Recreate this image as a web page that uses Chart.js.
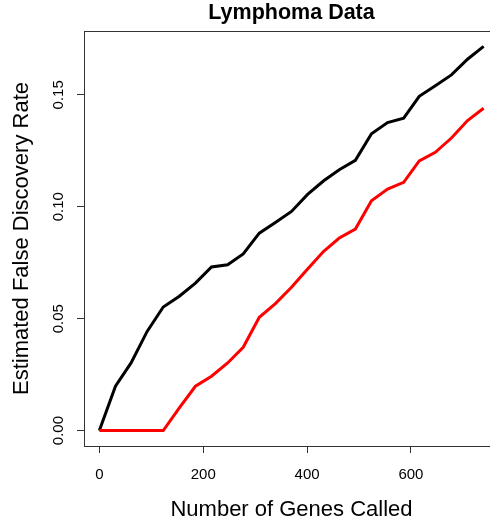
<!DOCTYPE html>
<html>
<head>
<meta charset="utf-8">
<title>Lymphoma Data</title>
<script src="https://cdn.jsdelivr.net/npm/chart.js@4/dist/chart.umd.min.js"></script>
<style>
	html, body { margin: 0; padding: 0; background: #fff; overflow: hidden; }
	#wrap { width: 490px; height: 521px; overflow: hidden; }
</style>
</head>
<body>
<div id="wrap"><canvas id="chart" width="500" height="521"></canvas></div>
<script>
// number of genes called (x)
var genesCalled = [0, 31, 61, 92, 123, 154, 185, 216, 247, 277, 308, 339, 370,
	401, 432, 462, 493, 524, 555, 586, 616, 647, 678, 709, 740];

// upper (black) and lower (red) FDR estimates
var fdrBlack = [0, 0.0198, 0.0302, 0.0443, 0.0552, 0.0600, 0.0659, 0.0731, 0.0741,
	0.0789, 0.0882, 0.0930, 0.0979, 0.1055, 0.1116, 0.1165, 0.1207, 0.1326,
	0.1376, 0.1396, 0.1493, 0.1540, 0.1589, 0.1659, 0.1716];
var fdrRed = [0, 0, 0, 0, 0, 0.0101, 0.0198, 0.0243, 0.0302, 0.0372, 0.0506,
	0.0567, 0.0640, 0.0722, 0.0801, 0.0860, 0.0900, 0.1027, 0.1079, 0.1109,
	0.1205, 0.1243, 0.1307, 0.1385, 0.1440];

var xTicks = [0, 200, 400, 600];
var yTicks = [0, 0.05, 0.10, 0.15];

var font = "'Liberation Sans', Arial, Helvetica, sans-serif";
var ink = "#333";

var points = function (ys) {
	return genesCalled.map(function (x, i) {
		return { x: x, y: ys[i] };
	});
};

// R style box around the plot region
var boxPlugin = {
	id: "box",
	afterDraw: function (chart) {
		var a = chart.chartArea;
		var ctx = chart.ctx;
		ctx.save();
		ctx.strokeStyle = ink;
		ctx.lineWidth = 1;
		ctx.strokeRect(Math.round(a.left) + 0.5, Math.round(a.top) + 0.5,
			Math.round(a.right - a.left), Math.round(a.bottom - a.top));
		ctx.restore();
	},
};

new Chart(document.getElementById("chart"), {
	type: "line",
	data: {
		datasets: [
			{
				data: points(fdrRed),
				borderColor: "#ff0000",
				borderWidth: 3,
				pointRadius: 0,
				tension: 0,
			},
			{
				data: points(fdrBlack),
				borderColor: "#000000",
				borderWidth: 3,
				pointRadius: 0,
				tension: 0,
			},
		],
	},
	options: {
		responsive: false,
		animation: false,
		layout: { padding: { left: 0, right: 1, top: 0, bottom: 0 } },
		plugins: {
			legend: { display: false },
			tooltip: { enabled: false },
			title: {
				display: true,
				text: "Lymphoma Data",
				fullSize: false,
				color: "#000",
				font: { family: font, size: 21.5, weight: "bold", lineHeight: 1.2 },
				padding: { top: 0.5, bottom: 4.7 },
			},
		},
		scales: {
			x: {
				type: "linear",
				min: -29.6,
				max: 769.6,
				afterFit: function (scale) { scale.height = 75; },
				afterBuildTicks: function (scale) {
					scale.ticks = xTicks.map(function (v) { return { value: v }; });
				},
				grid: { drawOnChartArea: false, drawTicks: true, tickLength: 7, color: ink },
				border: { display: true, color: ink },
				ticks: {
					color: "#000",
					padding: 13,
					maxRotation: 0,
					font: { family: font, size: 15 },
				},
				title: {
					display: true,
					text: "Number of Genes Called",
					color: "#000",
					font: { family: font, size: 22, lineHeight: 1 },
					padding: { top: 0, bottom: 0.5 },
				},
			},
			y: {
				type: "linear",
				min: -0.0069,
				max: 0.1785,
				afterFit: function (scale) { scale.width = 84; },
				afterBuildTicks: function (scale) {
					scale.ticks = yTicks.map(function (v) { return { value: v }; });
				},
				grid: { drawOnChartArea: false, drawTicks: true, tickLength: 7, color: ink },
				border: { display: true, color: ink },
				ticks: {
					color: "#000",
					padding: 4,
					minRotation: 90,
					maxRotation: 90,
					crossAlign: "center",
					font: { family: font, size: 15 },
					callback: function (v) { return v.toFixed(2); },
				},
				title: {
					display: true,
					text: "Estimated False Discovery Rate",
					color: "#000",
					font: { family: font, size: 22, lineHeight: 1 },
					padding: { top: 11, bottom: 0 },
				},
			},
		},
	},
	plugins: [boxPlugin],
});
</script>
</body>
</html>
